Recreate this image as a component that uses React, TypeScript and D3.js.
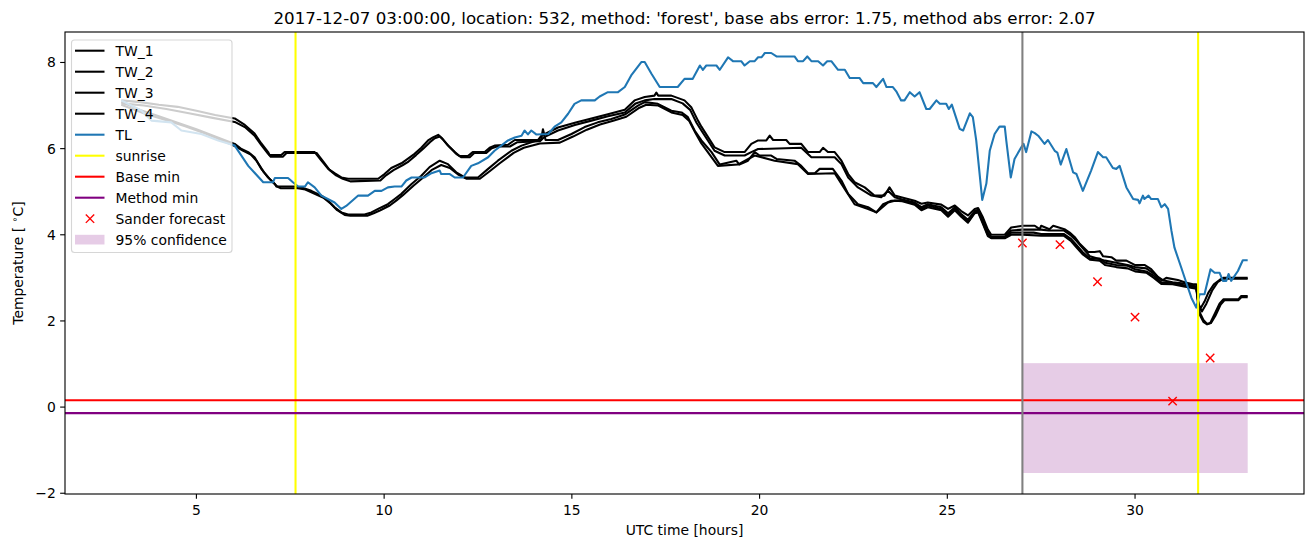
import React from 'react';
import * as d3 from 'd3';

type P = [number, number];

const TITLE = "2017-12-07 03:00:00, location: 532, method: 'forest', base abs error: 1.75, method abs error: 2.07";
const X_TICKS = [5, 10, 15, 20, 25, 30];
const Y_TICKS = [-2, 0, 2, 4, 6, 8];

const TW_1: P[] = [[3.0,7.12],[3.5,7.08],[4.0,7.02],[4.5,6.97],[5.0,6.88],[5.5,6.78],[6.02,6.7],[6.29,6.55],[6.55,6.35],[6.73,6.12],[6.91,5.92],[6.95,5.85],[7.26,5.85],[7.35,5.92],[8.15,5.92],[8.33,5.72],[8.51,5.53],[8.68,5.43],[8.86,5.33],[9.04,5.3],[9.84,5.3],[10.01,5.41],[10.19,5.55],[10.46,5.66],[10.59,5.74],[10.81,5.88],[10.99,6.02],[11.17,6.19],[11.3,6.26],[11.44,6.32],[11.52,6.26],[11.7,6.07],[11.88,5.92],[12.01,5.83],[12.23,5.83],[12.36,5.92],[12.68,5.92],[12.81,6.02],[12.94,6.07],[13.3,6.09],[13.48,6.2],[14.1,6.2],[14.19,6.3],[14.63,6.49],[15.08,6.6],[15.52,6.7],[15.96,6.8],[16.41,6.9],[16.67,7.12],[16.94,7.2],[17.2,7.23],[17.25,7.3],[17.3,7.23],[17.65,7.23],[18.0,7.12],[18.18,6.96],[18.36,6.65],[18.45,6.51],[18.8,6.03],[19.07,5.92],[19.6,5.92],[19.78,6.11],[19.96,6.19],[20.18,6.19],[20.27,6.3],[20.36,6.2],[20.71,6.2],[20.8,6.11],[21.11,6.11],[21.29,5.92],[21.6,5.92],[21.69,6.02],[21.82,5.92],[22.0,5.92],[22.18,5.72],[22.36,5.41],[22.53,5.22],[22.8,5.1],[23.06,4.91],[23.33,4.91],[23.46,5.1],[23.6,4.91],[23.77,4.87],[24.13,4.79],[24.31,4.72],[24.48,4.75],[24.84,4.7],[25.02,4.6],[25.2,4.68],[25.37,4.55],[25.55,4.45],[25.73,4.6],[25.82,4.62],[25.95,4.4],[26.08,4.12],[26.17,4.0],[26.53,4.0],[26.7,4.17],[27.01,4.21],[27.33,4.21],[27.46,4.13],[27.5,4.21],[27.72,4.13],[27.82,4.21],[28.12,4.13],[28.26,4.05],[28.39,3.95],[28.52,3.8],[28.75,3.6],[28.92,3.6],[29.06,3.62],[29.15,3.5],[29.37,3.48],[29.5,3.4],[29.77,3.4],[29.99,3.3],[30.25,3.3],[30.43,3.2],[30.61,3.02],[30.74,2.95],[30.83,3.0],[31.14,2.95],[31.32,2.9],[31.54,2.85],[31.63,2.85],[31.68,2.4],[31.75,2.3],[31.85,2.45],[31.95,2.65],[32.1,2.85],[32.25,2.95],[32.35,3.0],[33.0,3.0]];

const TW_2: P[] = [[3.0,7.05],[3.6,7.0],[4.2,6.92],[4.8,6.82],[5.4,6.72],[6.02,6.62],[6.29,6.5],[6.55,6.3],[6.73,6.08],[6.91,5.88],[6.98,5.81],[7.3,5.81],[7.4,5.9],[8.2,5.9],[8.38,5.7],[8.55,5.5],[8.72,5.38],[8.9,5.3],[9.1,5.24],[9.9,5.26],[10.05,5.38],[10.25,5.5],[10.5,5.62],[10.65,5.7],[10.85,5.85],[11.04,6.0],[11.22,6.15],[11.35,6.24],[11.48,6.28],[11.56,6.22],[11.75,6.03],[11.92,5.88],[12.05,5.8],[12.28,5.8],[12.4,5.9],[12.72,5.9],[12.85,6.0],[13.0,6.05],[13.35,6.05],[13.55,6.15],[14.15,6.17],[14.25,6.26],[14.63,6.42],[15.08,6.55],[15.52,6.65],[15.96,6.75],[16.41,6.84],[16.7,7.05],[16.94,7.12],[17.2,7.15],[17.65,7.15],[17.95,7.05],[18.15,6.9],[18.32,6.6],[18.45,6.42],[18.8,5.95],[19.07,5.84],[19.6,5.84],[19.78,5.92],[19.96,5.99],[21.11,6.02],[21.38,5.8],[22.0,5.8],[22.18,5.64],[22.36,5.33],[22.62,5.1],[22.98,4.91],[23.24,4.87],[23.42,5.02],[23.6,4.87],[23.8,4.82],[24.13,4.75],[24.31,4.64],[24.48,4.71],[24.84,4.64],[25.02,4.5],[25.2,4.64],[25.37,4.48],[25.55,4.35],[25.73,4.55],[25.82,4.58],[25.95,4.33],[26.08,4.05],[26.17,3.95],[26.53,3.95],[26.7,4.1],[27.0,4.12],[27.5,4.12],[27.7,4.1],[28.1,4.1],[28.3,3.98],[28.45,3.85],[28.6,3.7],[28.8,3.5],[29.0,3.45],[29.2,3.4],[29.5,3.35],[29.8,3.3],[30.0,3.25],[30.3,3.22],[30.5,3.1],[30.7,2.95],[31.0,2.9],[31.3,2.87],[31.63,2.8],[31.7,2.35],[31.78,2.22],[31.9,2.4],[32.05,2.7],[32.2,2.9],[32.35,2.98],[33.0,2.98]];

const TW_3: P[] = [[3.0,7.08],[3.5,6.9],[4.0,6.75],[4.5,6.6],[5.0,6.45],[5.5,6.28],[6.02,6.11],[6.2,5.99],[6.38,5.92],[6.55,5.8],[6.73,5.53],[6.91,5.33],[7.09,5.18],[7.13,5.12],[7.62,5.12],[7.8,5.1],[8.06,5.02],[8.33,4.91],[8.51,4.79],[8.68,4.64],[8.86,4.52],[9.04,4.47],[9.48,4.47],[9.66,4.52],[9.84,4.6],[10.1,4.71],[10.28,4.83],[10.46,4.95],[10.73,5.18],[10.99,5.37],[11.21,5.57],[11.48,5.72],[11.7,5.64],[11.92,5.45],[12.15,5.33],[12.5,5.33],[12.77,5.53],[13.03,5.72],[13.39,5.95],[13.66,6.07],[14.1,6.2],[14.18,6.2],[14.23,6.45],[14.3,6.2],[14.63,6.2],[14.99,6.34],[15.34,6.5],[15.69,6.61],[16.05,6.69],[16.41,6.79],[16.76,7.0],[16.94,7.08],[17.29,7.04],[17.65,6.88],[17.92,6.84],[18.09,6.73],[18.27,6.42],[18.45,6.19],[18.72,5.92],[18.94,5.63],[19.38,5.72],[19.46,5.63],[19.69,5.72],[19.87,5.92],[20.0,5.84],[20.31,5.84],[20.45,5.76],[20.93,5.72],[21.11,5.6],[21.29,5.43],[21.47,5.43],[21.6,5.53],[21.95,5.53],[22.18,5.26],[22.36,4.95],[22.62,4.71],[22.89,4.64],[23.11,4.52],[23.29,4.71],[23.51,4.79],[23.77,4.8],[24.13,4.72],[24.31,4.6],[24.48,4.68],[24.84,4.6],[25.02,4.45],[25.2,4.6],[25.37,4.45],[25.55,4.3],[25.73,4.52],[25.82,4.55],[25.95,4.28],[26.08,4.0],[26.17,3.93],[26.53,3.93],[26.7,4.05],[27.0,4.05],[27.3,4.05],[27.5,4.02],[28.1,4.02],[28.3,3.9],[28.45,3.75],[28.6,3.6],[28.8,3.45],[29.06,3.45],[29.2,3.35],[29.5,3.3],[29.8,3.28],[30.0,3.2],[30.3,3.15],[30.5,3.05],[30.7,2.9],[31.0,2.88],[31.3,2.83],[31.63,2.78],[31.72,2.2],[31.82,2.02],[31.92,1.93],[32.0,1.95],[32.12,2.16],[32.25,2.4],[32.35,2.5],[32.75,2.5],[32.83,2.58],[33.0,2.58]];

const TW_4: P[] = [[3.0,7.02],[3.6,6.82],[4.2,6.66],[4.7,6.52],[5.2,6.36],[5.6,6.22],[6.02,6.06],[6.25,5.95],[6.45,5.86],[6.6,5.72],[6.8,5.45],[6.98,5.27],[7.15,5.12],[7.25,5.08],[7.7,5.08],[7.9,5.05],[8.15,4.95],[8.4,4.85],[8.58,4.72],[8.75,4.57],[8.95,4.46],[9.1,4.44],[9.55,4.44],[9.72,4.5],[9.9,4.57],[10.15,4.68],[10.33,4.8],[10.5,4.92],[10.78,5.14],[11.04,5.33],[11.26,5.5],[11.52,5.62],[11.75,5.55],[11.97,5.4],[12.2,5.3],[12.55,5.3],[12.82,5.48],[13.08,5.66],[13.45,5.9],[13.72,6.02],[14.15,6.12],[14.68,6.14],[15.03,6.28],[15.4,6.44],[15.75,6.56],[16.1,6.65],[16.45,6.74],[16.8,6.95],[16.98,7.02],[17.3,7.0],[17.65,6.84],[17.95,6.78],[18.12,6.65],[18.3,6.35],[18.45,6.12],[18.89,5.6],[19.42,5.63],[19.87,5.84],[20.4,5.72],[21.02,5.64],[21.29,5.41],[22.0,5.43],[22.27,5.06],[22.53,4.71],[22.89,4.6],[23.11,4.52],[23.42,4.75],[23.6,4.79],[23.8,4.78],[24.13,4.7],[24.31,4.57],[24.48,4.64],[24.84,4.57],[25.02,4.42],[25.2,4.57],[25.37,4.42],[25.55,4.28],[25.73,4.5],[25.82,4.52],[25.95,4.25],[26.08,3.97],[26.17,3.92],[26.53,3.92],[26.7,4.0],[27.0,4.0],[27.5,3.98],[28.1,3.98],[28.3,3.85],[28.45,3.7],[28.6,3.55],[28.8,3.42],[29.06,3.4],[29.2,3.3],[29.5,3.25],[29.8,3.22],[30.0,3.15],[30.3,3.12],[30.5,3.0],[30.7,2.86],[31.0,2.85],[31.3,2.8],[31.63,2.75],[31.72,2.15],[31.82,1.98],[31.92,1.92],[32.02,1.95],[32.14,2.12],[32.28,2.38],[32.38,2.48],[32.75,2.48],[32.83,2.55],[33.0,2.55]];

const TL: P[] = [[3.0,7.12],[3.54,6.88],[3.8,6.65],[4.33,6.61],[4.6,6.42],[5.13,6.34],[5.58,6.19],[6.02,6.07],[6.38,5.6],[6.78,5.22],[7.04,5.22],[7.09,5.32],[7.44,5.32],[7.57,5.22],[7.71,5.12],[7.89,5.12],[7.97,5.22],[8.15,5.1],[8.33,4.91],[8.68,4.75],[8.86,4.6],[8.99,4.67],[9.31,4.91],[9.57,4.91],[9.75,5.02],[9.93,5.02],[10.1,5.1],[10.28,5.12],[10.46,5.12],[10.59,5.26],[10.73,5.33],[11.08,5.33],[11.26,5.43],[11.48,5.49],[11.52,5.41],[11.75,5.41],[11.88,5.33],[12.1,5.33],[12.32,5.6],[12.5,5.66],[12.77,5.8],[12.94,5.95],[13.3,6.19],[13.48,6.26],[13.66,6.3],[13.74,6.42],[13.83,6.33],[13.92,6.42],[14.05,6.33],[14.37,6.34],[14.54,6.51],[14.72,6.61],[14.9,6.81],[15.07,7.04],[15.25,7.12],[15.61,7.12],[15.74,7.21],[15.96,7.31],[16.23,7.31],[16.41,7.43],[16.58,7.7],[16.85,8.01],[16.94,8.01],[17.12,7.74],[17.34,7.43],[17.82,7.43],[18.0,7.62],[18.22,7.62],[18.41,7.93],[18.49,7.83],[18.58,7.93],[18.85,7.93],[18.94,7.83],[19.16,8.12],[19.29,8.03],[19.51,8.03],[19.6,7.93],[19.74,8.03],[19.87,8.03],[19.96,8.12],[20.05,8.12],[20.14,8.22],[20.31,8.22],[20.45,8.14],[20.93,8.14],[21.02,8.03],[21.16,8.03],[21.27,8.14],[21.38,8.03],[21.56,8.03],[21.69,7.93],[21.8,8.03],[21.91,8.03],[22.09,7.83],[22.27,7.83],[22.4,7.64],[22.66,7.64],[22.76,7.52],[23.02,7.52],[23.11,7.43],[23.29,7.62],[23.38,7.43],[23.55,7.43],[23.64,7.33],[23.77,7.12],[23.86,7.12],[24.0,7.31],[24.13,7.21],[24.26,7.31],[24.44,6.92],[24.53,6.92],[24.71,7.12],[24.8,7.04],[24.97,7.04],[25.04,6.92],[25.12,7.02],[25.33,6.46],[25.42,6.42],[25.6,6.82],[25.68,6.73],[25.77,6.19],[25.93,4.81],[26.04,5.19],[26.13,5.95],[26.26,6.34],[26.39,6.51],[26.53,6.51],[26.57,6.19],[26.69,5.33],[26.79,5.76],[26.97,6.03],[27.03,6.11],[27.1,5.92],[27.24,6.4],[27.33,6.36],[27.42,6.3],[27.59,6.11],[27.68,6.2],[27.86,5.95],[27.93,5.91],[28.02,5.63],[28.17,5.99],[28.35,5.45],[28.44,5.41],[28.61,5.02],[28.83,5.49],[29.01,5.92],[29.15,5.8],[29.23,5.8],[29.41,5.55],[29.5,5.53],[29.59,5.6],[29.77,5.1],[29.95,4.83],[30.08,4.81],[30.12,4.73],[30.21,4.91],[30.25,4.83],[30.36,4.91],[30.43,4.83],[30.61,4.83],[30.7,4.64],[30.79,4.71],[30.88,4.6],[30.97,4.09],[31.05,3.7],[31.23,3.24],[31.41,2.77],[31.5,2.54],[31.63,2.31],[31.72,2.62],[31.85,2.62],[32.01,3.2],[32.12,3.12],[32.25,3.12],[32.34,2.93],[32.43,2.93],[32.49,3.09],[32.56,2.93],[32.74,3.16],[32.87,3.41],[33.0,3.41]];

const SUNRISE = [7.64, 31.68];
const FORECAST_TIME = 27.0;
const BASE_MIN = 0.16;
const METHOD_MIN = -0.14;
const SANDER_HOURS = [27, 28, 29, 30, 31, 32];
const SANDER_VALUES = [3.81, 3.77, 2.91, 2.09, 0.14, 1.14];
const CONF_HOURS = [27, 33];
const CONF_LOW = -1.53;
const CONF_HIGH = 1.02;

const LEGEND = [
  { label: 'TW_1', kind: 'line', color: '#000000' },
  { label: 'TW_2', kind: 'line', color: '#000000' },
  { label: 'TW_3', kind: 'line', color: '#000000' },
  { label: 'TW_4', kind: 'line', color: '#000000' },
  { label: 'TL', kind: 'line', color: '#1f77b4' },
  { label: 'sunrise', kind: 'line', color: '#ffff00' },
  { label: 'Base min', kind: 'line', color: '#ff0000' },
  { label: 'Method min', kind: 'line', color: '#800080' },
  { label: 'Sander forecast', kind: 'x', color: '#ff0000' },
  { label: '95% confidence', kind: 'patch', color: '#800080' },
];

const FONT = "'DejaVu Sans', sans-serif";

export default function App() {
  const W = 1313, H = 547;
  const L = 65, R = 1304, T = 32, B = 494;
  const allX = [...TW_1, ...TL].map(d => d[0]);
  const x0 = d3.min(allX)!, x1 = d3.max(allX)!;
  const allY = [...TW_1, ...TW_2, ...TW_3, ...TW_4, ...TL].map(d => d[1]).concat(SANDER_VALUES, [CONF_LOW, CONF_HIGH]);
  const y0 = d3.min(allY)!, y1 = d3.max(allY)!;
  const xm = (x1 - x0) * 0.05, ym = (y1 - y0) * 0.05;
  const x = d3.scaleLinear().domain([x0 - xm, x1 + xm]).range([L, R]);
  const y = d3.scaleLinear().domain([y0 - ym, y1 + ym]).range([B, T]);
  const line = d3.line<P>().x(d => x(d[0])).y(d => y(d[1]));
  const lw = 2.08;
  const fs = 13.9;
  const tw = [TW_1, TW_2, TW_3, TW_4];
  const xs = 4.17;

  const legX = 71.5, legY = 40, legW = 160.5, legH = 212.5;
  const rowY = (i: number) => 50.7 + i * 21.0;

  return (
    <svg width={W} height={H} style={{ position: 'absolute', left: 0, top: 0, background: '#fff' }} fontFamily={FONT}>
      <rect x={0} y={0} width={W} height={H} fill="#fff" />
      <defs>
        <clipPath id="plot"><rect x={L} y={T} width={R - L} height={B - T} /></clipPath>
      </defs>
      <g clipPath="url(#plot)">
        <rect x={x(CONF_HOURS[0])} y={y(CONF_HIGH)} width={x(CONF_HOURS[1]) - x(CONF_HOURS[0])} height={y(CONF_LOW) - y(CONF_HIGH)} fill="#800080" fillOpacity={0.2} />
        {tw.map((s, i) => (
          <path key={i} d={line(s)!} fill="none" stroke="#000" strokeWidth={lw} strokeLinejoin="round" />
        ))}
        <path d={line(TL)!} fill="none" stroke="#1f77b4" strokeWidth={lw} strokeLinejoin="round" />
        {SUNRISE.map((h, i) => (
          <line key={i} x1={x(h)} x2={x(h)} y1={T} y2={B} stroke="#ffff00" strokeWidth={lw} />
        ))}
        <line x1={L} x2={R} y1={y(BASE_MIN)} y2={y(BASE_MIN)} stroke="#ff0000" strokeWidth={lw} />
        <line x1={L} x2={R} y1={y(METHOD_MIN)} y2={y(METHOD_MIN)} stroke="#800080" strokeWidth={lw} />
        {SANDER_HOURS.map((h, i) => {
          const cx = x(h), cy = y(SANDER_VALUES[i]);
          return (
            <g key={i} stroke="#ff0000" strokeWidth={1.39}>
              <line x1={cx - xs} y1={cy - xs} x2={cx + xs} y2={cy + xs} />
              <line x1={cx - xs} y1={cy + xs} x2={cx + xs} y2={cy - xs} />
            </g>
          );
        })}
        <line x1={x(FORECAST_TIME)} x2={x(FORECAST_TIME)} y1={T} y2={B} stroke="#808080" strokeWidth={lw} />
      </g>
      <rect x={L} y={T} width={R - L} height={B - T} fill="none" stroke="#000" strokeWidth={1.11} />
      {X_TICKS.map(t => (
        <g key={t}>
          <line x1={x(t)} x2={x(t)} y1={B} y2={B + 4.86} stroke="#000" strokeWidth={1.11} />
          <text x={x(t)} y={B + 20.5} fontSize={fs} textAnchor="middle" fill="#000">{t}</text>
        </g>
      ))}
      {Y_TICKS.map(t => (
        <g key={t}>
          <line x1={L - 4.86} x2={L} y1={y(t)} y2={y(t)} stroke="#000" strokeWidth={1.11} />
          <text x={L - 9.2} y={y(t) + 5} fontSize={fs} textAnchor="end" fill="#000">{t < 0 ? '\u2212' + Math.abs(t) : t}</text>
        </g>
      ))}
      <text x={(L + R) / 2} y={535} fontSize={fs} textAnchor="middle" fill="#000">UTC time [hours]</text>
      <text transform={`translate(23,${(T + B) / 2}) rotate(-90)`} fontSize={fs} textAnchor="middle" fill="#000">
        Temperature [ <tspan fontSize={9.7} dy={-5}>∘</tspan><tspan dy={5}>C]</tspan>
      </text>
      <text x={(L + R) / 2} y={24} fontSize={16.7} textAnchor="middle" fill="#000">{TITLE}</text>
      <g>
        <rect x={legX} y={legY} width={legW} height={legH} rx={3} fill="#fff" fillOpacity={0.8} stroke="#cccccc" strokeOpacity={0.8} strokeWidth={1.11} />
        {LEGEND.map((e, i) => {
          const cy = rowY(i);
          return (
            <g key={e.label}>
              {e.kind === 'line' && <line x1={75} x2={104.5} y1={cy} y2={cy} stroke={e.color} strokeWidth={lw} />}
              {e.kind === 'x' && (
                <g stroke={e.color} strokeWidth={1.39}>
                  <line x1={90 - xs} y1={cy - xs} x2={90 + xs} y2={cy + xs} />
                  <line x1={90 - xs} y1={cy + xs} x2={90 + xs} y2={cy - xs} />
                </g>
              )}
              {e.kind === 'patch' && <rect x={75} y={cy - 4.9} width={29.5} height={9.7} fill={e.color} fillOpacity={0.2} />}
              <text x={115.5} y={cy + 4.9} fontSize={fs} fill="#000">{e.label}</text>
            </g>
          );
        })}
      </g>
    </svg>
  );
}
